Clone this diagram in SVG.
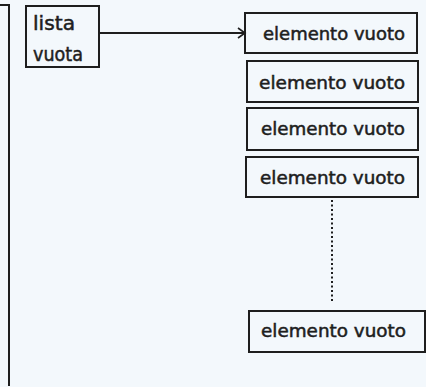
<svg xmlns="http://www.w3.org/2000/svg" width="426" height="387" viewBox="0 0 426 387">
<defs>
<style>
.box{fill:none;stroke:#1e1e1e;stroke-width:2}
.t{font-family:"DejaVu Sans","Liberation Sans",sans-serif;font-size:17px;fill:#1e1e1e;stroke:#1e1e1e;stroke-width:0.5}
.tl{font-size:19px}
.ln{fill:none;stroke:#1e1e1e;stroke-width:2}
</style>
<marker id="ah" markerWidth="10" markerHeight="12" refX="8" refY="6" orient="auto" markerUnits="userSpaceOnUse">
<path d="M1,1 L8,6 L1,11" fill="none" stroke="#1e1e1e" stroke-width="1.6"/>
</marker>
</defs>
<rect width="426" height="387" fill="#f3f8fc"/>
<path class="ln" d="M0,5 H9 V386"/>
<g id="lista">
<rect class="box" x="26" y="6" width="73" height="61"/>
<text class="t tl" x="33" y="30" textLength="42" lengthAdjust="spacingAndGlyphs">lista</text>
<text class="t tl" x="33" y="61" textLength="50" lengthAdjust="spacingAndGlyphs">vuota</text>
</g>
<g id="e1">
<rect class="box" x="245" y="13" width="172" height="40"/>
<text class="t" x="263" y="40" textLength="142" lengthAdjust="spacingAndGlyphs">elemento vuoto</text>
</g>
<g id="e2">
<rect class="box" x="247" y="61" width="171" height="41"/>
<text class="t" x="259" y="89" textLength="146" lengthAdjust="spacingAndGlyphs">elemento vuoto</text>
</g>
<g id="e3">
<rect class="box" x="247" y="108" width="171" height="42"/>
<text class="t" x="261" y="135" textLength="144" lengthAdjust="spacingAndGlyphs">elemento vuoto</text>
</g>
<g id="e4">
<rect class="box" x="246" y="157" width="172" height="40"/>
<text class="t" x="260" y="184" textLength="145" lengthAdjust="spacingAndGlyphs">elemento vuoto</text>
</g>
<g id="e5">
<rect class="box" x="249" y="311" width="176" height="41"/>
<text class="t" x="261" y="337" textLength="145" lengthAdjust="spacingAndGlyphs">elemento vuoto</text>
</g>
<g id="connectors">
<line class="ln" x1="99" y1="33" x2="245" y2="33" marker-end="url(#ah)"/>
<line x1="332" y1="200" x2="332" y2="303" stroke="#1e1e1e" stroke-width="2" stroke-dasharray="2 2.5"/>
</g>
</svg>
